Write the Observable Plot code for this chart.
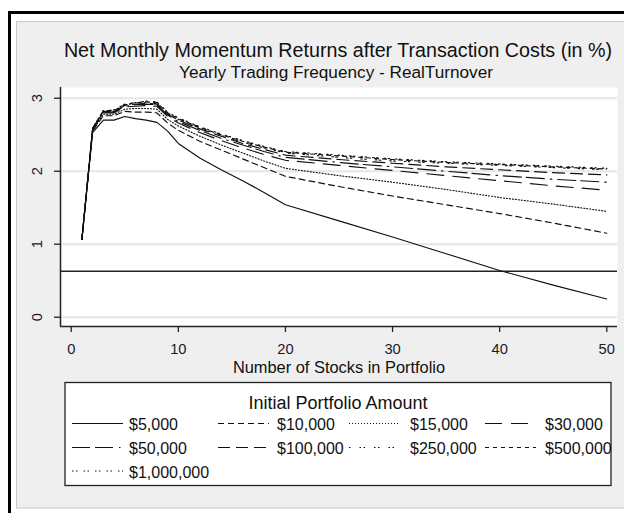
<!DOCTYPE html>
<html><head><meta charset="utf-8">
<script src="https://cdn.jsdelivr.net/npm/d3@7"></script>
<script src="https://cdn.jsdelivr.net/npm/@observablehq/plot@0.6"></script>
<style>
html,body{margin:0;padding:0;background:#fff;}
#wrap{position:relative;width:624px;height:513px;overflow:hidden;font-family:"Liberation Sans",Arial,sans-serif;}
#bg,#plot{position:absolute;left:0;top:0;}
</style></head><body><div id="wrap"><svg id="bg" width="624" height="513"></svg><div id="plot"></div></div>
<script>
// ---- data ----
const stocks = [1,2,3,4,5,6,7,8,9,10,12,14,16,18,20,25,30,35,40,45,50];
const seriesNames = ["$5,000","$10,000","$15,000","$30,000","$50,000","$100,000","$250,000","$500,000","$1,000,000"];
const r5k   = [1.07,2.53,2.70,2.70,2.75,2.72,2.70,2.67,2.55,2.38,2.18,2.02,1.87,1.71,1.54,1.32,1.10,0.87,0.64,0.44,0.25];
const r10k  = [1.07,2.55,2.76,2.76,2.82,2.81,2.81,2.80,2.66,2.56,2.41,2.29,2.17,2.05,1.93,1.79,1.66,1.54,1.42,1.29,1.15];
const r15k  = [1.07,2.56,2.78,2.78,2.85,2.86,2.86,2.85,2.71,2.62,2.48,2.36,2.25,2.14,2.04,1.94,1.85,1.75,1.64,1.55,1.45];
const r30k  = [1.07,2.57,2.80,2.80,2.88,2.89,2.90,2.89,2.75,2.66,2.53,2.42,2.32,2.23,2.15,2.08,2.01,1.94,1.87,1.80,1.74];
const r50k  = [1.07,2.58,2.81,2.81,2.89,2.91,2.92,2.91,2.77,2.68,2.56,2.45,2.36,2.27,2.19,2.12,2.06,2.00,1.94,1.89,1.85];
const r100k = [1.07,2.58,2.82,2.82,2.90,2.92,2.93,2.92,2.78,2.70,2.58,2.48,2.38,2.30,2.22,2.16,2.11,2.06,2.02,1.98,1.95];
const r250k = [1.07,2.59,2.82,2.82,2.91,2.93,2.94,2.93,2.79,2.71,2.59,2.49,2.40,2.32,2.25,2.19,2.14,2.11,2.08,2.05,2.02];
const r500k = [1.07,2.59,2.83,2.83,2.91,2.94,2.95,2.94,2.80,2.72,2.60,2.50,2.41,2.33,2.26,2.21,2.16,2.12,2.09,2.06,2.03];
const r1m   = [1.07,2.59,2.83,2.84,2.92,2.94,2.96,2.95,2.81,2.73,2.61,2.51,2.42,2.34,2.27,2.22,2.17,2.13,2.10,2.07,2.04];
const seriesValues = [r5k,r10k,r15k,r30k,r50k,r100k,r250k,r500k,r1m];
const refLine = [0.63];
const xTicks = [0,10,20,30,40,50];
const yTicks = [0,1,2,3];
const titleText = "Net Monthly Momentum Returns after Transaction Costs (in %)";
const subtitleText = "Yearly Trading Frequency - RealTurnover";
const xTitle = "Number of Stocks in Portfolio";
const legendTitle = "Initial Portfolio Amount";

// ---- styles ----
const dashStyles = ["none","6,4","1,2","17,9","18,5,18,6,1.5,6","12,6","1.5,9,1.5,2.5","4,4","1.5,2.5,1.5,6"];
const FONT = '"Liberation Sans", Arial, sans-serif';
const INK = "#111";

const rows = [];
seriesNames.forEach((name, si) => {
  stocks.forEach((s, i) => rows.push({series: name, stocks: s, ret: seriesValues[si][i]}));
});

const lineMarks = seriesNames.map((name, si) =>
  Plot.line(rows.filter(d => d.series === name), {
    x: "stocks", y: "ret", stroke: INK, strokeWidth: 1.15,
    strokeDasharray: dashStyles[si] === "none" ? null : dashStyles[si]
  })
);

const yMin = -0.127, yMax = 3.147;
const chart = Plot.plot({
  width: 624, height: 380,
  marginLeft: 60, marginRight: 7, marginTop: 87, marginBottom: 54,
  style: {background: "transparent", fontFamily: FONT, overflow: "visible"},
  x: {domain: [-1, 51]},
  y: {domain: [yMin, yMax]},
  marks: [
    Plot.frame({fill: "white", stroke: "none"}),
    Plot.ruleY(yTicks, {stroke: "#e6e6e6", strokeWidth: 2}),
    Plot.ruleY(refLine, {stroke: "#222", strokeWidth: 1.3}),
    ...lineMarks,
    Plot.ruleX([-1], {stroke: "#222", strokeWidth: 1.5}),
    Plot.ruleY([yMin], {stroke: "#222", strokeWidth: 1.5}),
    Plot.axisX({ticks: xTicks, tickSize: 6, tickFormat: () => "", label: null, stroke: "#222", strokeWidth: 1.3}),
    Plot.axisY({ticks: yTicks, tickSize: 6, tickFormat: () => "", label: null, stroke: "#222", strokeWidth: 1.3}),
    Plot.text(xTicks, {x: d => d, frameAnchor: "bottom", dy: 27.5, lineAnchor: "bottom", text: d => String(d), fontSize: 14.7, fill: "#1a1a2a"}),
    Plot.text(yTicks, {x: -1, y: d => d, dx: -18.5, rotate: -90, textAnchor: "middle", lineAnchor: "bottom", text: d => String(d), fontSize: 14.7, fill: "#1a1a2a"}),
    Plot.text([xTitle], {frameAnchor: "bottom", dy: 46, lineAnchor: "bottom", text: d => d, fontSize: 16.4, fill: "#111"})
  ]
});
document.getElementById("plot").appendChild(chart);

// ---- background, titles and legend ----
const bg = d3.select("#bg");
bg.append("rect").attr("x", 16.5).attr("y", 21.5).attr("width", 700).attr("height", 486.5)
  .attr("fill", "#efefef").attr("stroke", "#c8c8c8").attr("stroke-width", 1);
bg.append("rect").attr("x", 8).attr("y", 11).attr("width", 700).attr("height", 3).attr("fill", "#000");
bg.append("rect").attr("x", 8).attr("y", 11).attr("width", 3).attr("height", 520).attr("fill", "#000");

bg.append("text").attr("x", 338).attr("y", 56.5).attr("text-anchor", "middle")
  .attr("font-family", FONT).attr("font-size", 19.7).attr("fill", "#111").text(titleText);
bg.append("text").attr("x", 336).attr("y", 77.5).attr("text-anchor", "middle")
  .attr("font-family", FONT).attr("font-size", 17.2).attr("fill", "#111").text(subtitleText);

// legend
bg.append("rect").attr("x", 65).attr("y", 382.5).attr("width", 546).attr("height", 103)
  .attr("fill", "white").attr("stroke", "#222").attr("stroke-width", 1.3);
bg.append("text").attr("x", 338).attr("y", 409).attr("text-anchor", "middle")
  .attr("font-family", FONT).attr("font-size", 18).attr("fill", "#111").text(legendTitle);
const colKey = [72, 218, 349, 485];
const keyW = 51;
const colLabel = [129, 277, 410, 545];
const rowBase = [430, 454, 477.5];
seriesNames.forEach((name, i) => {
  const r = Math.floor(i / 4), c = i % 4;
  const yk = rowBase[r] - 6.5;
  const ln = bg.append("line").attr("x1", colKey[c]).attr("x2", colKey[c] + keyW)
    .attr("y1", yk).attr("y2", yk).attr("stroke", INK).attr("stroke-width", 1.2);
  if (dashStyles[i] !== "none") ln.attr("stroke-dasharray", dashStyles[i]);
  bg.append("text").attr("x", colLabel[c]).attr("y", rowBase[r])
    .attr("font-family", FONT).attr("font-size", 16).attr("fill", "#111").text(name);
});
</script></body></html>
